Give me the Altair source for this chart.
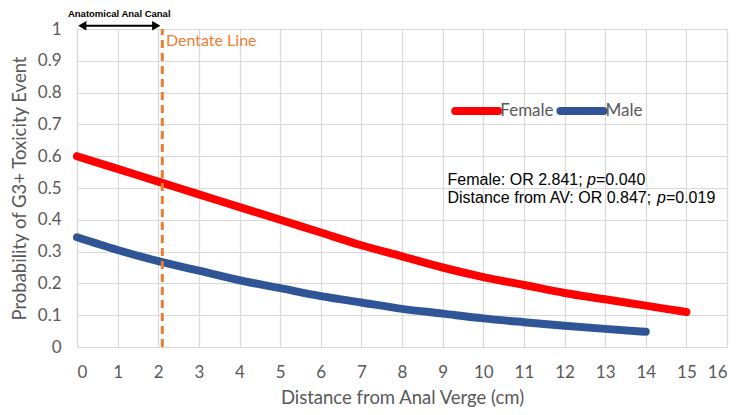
import altair as alt
import pandas as pd

# curves
dist_female = list(range(0, 16))
prob_female = [0.60, 0.56, 0.52, 0.48, 0.44, 0.40, 0.36, 0.32, 0.285, 0.25,
               0.22, 0.195, 0.17, 0.15, 0.13, 0.11]
dist_male = list(range(0, 15))
prob_male = [0.345, 0.305, 0.27, 0.24, 0.21, 0.185, 0.16, 0.14, 0.12, 0.105,
             0.09, 0.078, 0.067, 0.057, 0.048]

dentate_x = 2.1
y_ticks = [0, 0.1, 0.2, 0.3, 0.4, 0.5, 0.6, 0.7, 0.8, 0.9, 1]
x_ticks = list(range(0, 17))

label_font = "Lato"
label_color = "#595959"

curves = pd.DataFrame({
    "Distance": dist_female + dist_male,
    "Probability": prob_female + prob_male,
    "Sex": ["Female"] * len(dist_female) + ["Male"] * len(dist_male),
})

xs = alt.Scale(domain=[0, 16], nice=False)
ys = alt.Scale(domain=[0, 1], nice=False)
colors = alt.Scale(domain=["Female", "Male"], range=["#FF0000", "#2F5597"])

x_axis = alt.Axis(values=x_ticks, title="Distance from Anal Verge (cm)",
                  grid=True, ticks=False, labelPadding=17, titlePadding=8, labelOverlap=False)
y_axis = alt.Axis(values=y_ticks, format="~g", title="Probability of G3+ Toxicity Event",
                  grid=True, ticks=False, labelPadding=16, titlePadding=8, labelOverlap=False)

# every layer shares the same axis definition so they merge cleanly
X = lambda f: alt.X(f, scale=xs, axis=x_axis)
Y = lambda f: alt.Y(f, scale=ys, axis=y_axis)

lines = alt.Chart(curves).mark_line(
    strokeWidth=8, strokeCap="round", interpolate="monotone", clip=False
).encode(
    x=X("Distance:Q"),
    y=Y("Probability:Q"),
    color=alt.Color("Sex:N", scale=colors, legend=None),
    detail="Sex:N",
)

dentate = alt.Chart(pd.DataFrame({"x": [dentate_x], "y": [0], "y2": [1]})).mark_rule(
    color="#ED7D31", strokeWidth=3, strokeDash=[8, 5]
).encode(x=X("x:Q"), y=Y("y:Q"), y2="y2:Q")

dentate_txt = alt.Chart(pd.DataFrame({"x": [2.19], "y": [0.962], "t": ["Dentate Line"]})).mark_text(
    align="left", baseline="middle", font=label_font, fontSize=16, color="#ED7D31"
).encode(x=X("x:Q"), y=Y("y:Q"), text="t:N")

# anatomical canal arrow
arrow = alt.Chart(pd.DataFrame({"x": [0.1], "x2": [2.0], "y": [1.01]})).mark_rule(
    color="black", strokeWidth=2, clip=False
).encode(x=X("x:Q"), x2="x2:Q", y=Y("y:Q"))

heads = alt.Chart(pd.DataFrame({
    "x": [0.13, 1.95], "y": [1.01, 1.01], "s": ["triangle-left", "triangle-right"]
})).mark_point(filled=True, color="black", size=90, opacity=1, clip=False).encode(
    x=X("x:Q"), y=Y("y:Q"),
    shape=alt.Shape("s:N", scale=None),
)

canal_txt = alt.Chart(pd.DataFrame({"x": [1.04], "y": [1.047], "t": ["Anatomical Anal Canal"]})).mark_text(
    align="center", baseline="middle", font="Liberation Sans", fontWeight="bold", fontSize=9.5, color="black"
).encode(x=X("x:Q"), y=Y("y:Q"), text="t:N")

# hand-drawn legend
leg = pd.DataFrame({
    "x": [9.31, 11.9], "x2": [10.37, 12.96], "y": [0.742, 0.742], "Sex": ["Female", "Male"],
})
leg_lines = alt.Chart(leg).mark_rule(strokeWidth=8, strokeCap="round").encode(
    x=X("x:Q"), x2="x2:Q", y=Y("y:Q"), color=alt.Color("Sex:N", scale=colors, legend=None)
)
leg_txt = alt.Chart(leg).mark_text(
    align="left", baseline="middle", dx=2, font=label_font, fontSize=17, color=label_color
).encode(x=X("x2:Q"), y=Y("y:Q"), text="Sex:N")

# odds ratio annotation (italic p split out)
stats = pd.DataFrame({
    "x": [9.12] * 6,
    "y": [0.524, 0.524, 0.524, 0.467, 0.467, 0.467],
    "t": ["Female: OR 2.841;", "p", "=0.040", "Distance from AV: OR 0.847;", "p", "=0.019"],
    "dx": [0, 139.6, 148.5, 0, 209.5, 218.4],
    "style": ["normal", "italic", "normal", "normal", "italic", "normal"],
})
stat_layers = []
for _, r in stats.iterrows():
    stat_layers.append(
        alt.Chart(pd.DataFrame([r])).mark_text(
            align="left", baseline="middle", font="Liberation Sans", fontSize=16,
            color="black", dx=float(r["dx"]), fontStyle=r["style"]
        ).encode(x=X("x:Q"), y=Y("y:Q"), text="t:N")
    )

chart = alt.layer(
    lines, dentate, dentate_txt, arrow, heads, canal_txt, leg_lines, leg_txt, *stat_layers
).properties(
    width=650, height=318,
    autosize=alt.AutoSizeParams(type="none"),
    padding={"left": 69, "top": 21, "right": 6, "bottom": 66},
).configure_view(
    stroke=None
).configure_axis(
    gridColor="#D9D9D9", gridWidth=1.2, domainColor="#D9D9D9", domainWidth=1.2,
    labelFont=label_font, labelFontSize=17, labelColor=label_color,
    titleFont=label_font, titleFontSize=18.5, titleColor=label_color, titleFontWeight="normal",
)

chart.save("out.html", embed_options={"renderer": "svg", "actions": False})
